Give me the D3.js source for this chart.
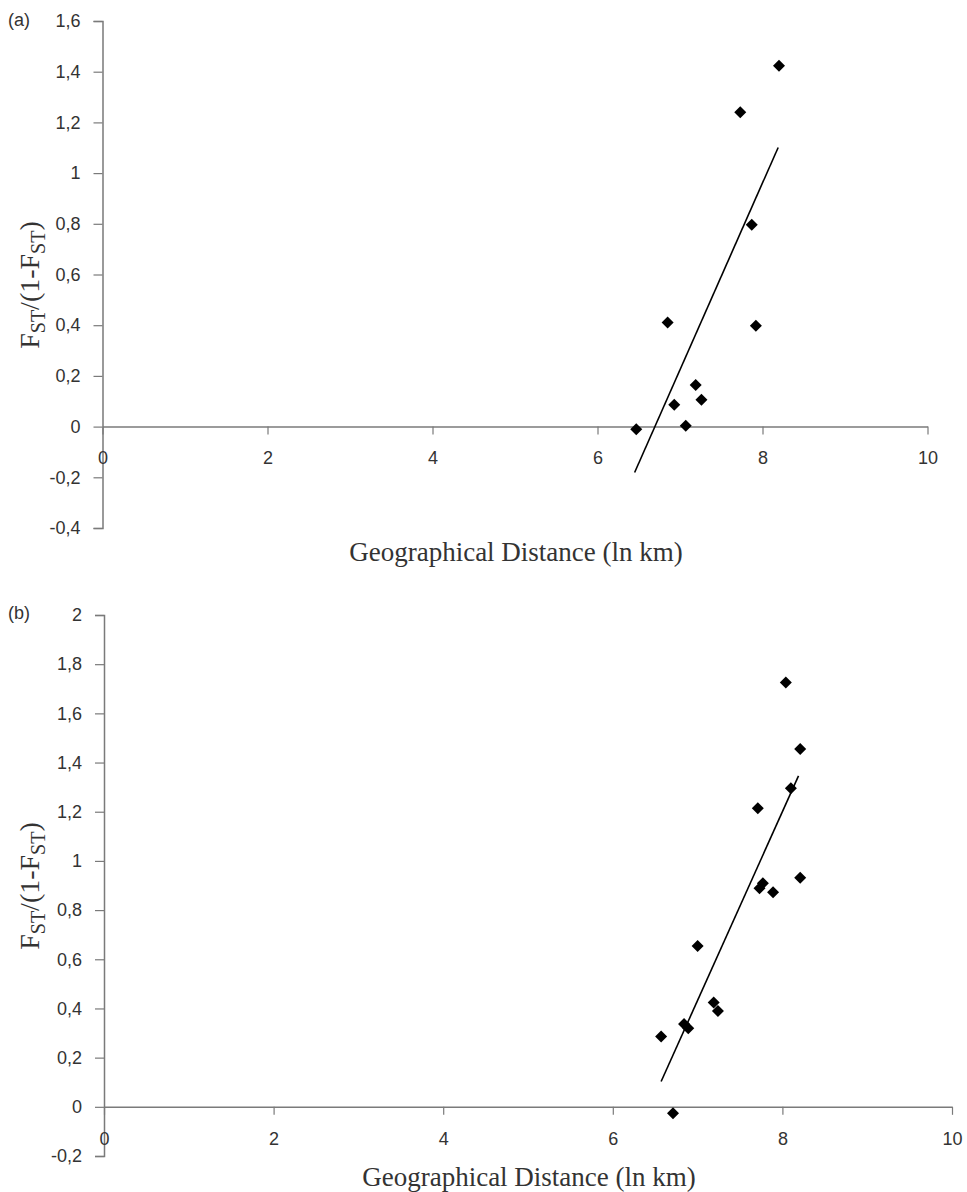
<!DOCTYPE html>
<html>
<head>
<meta charset="utf-8">
<script src="https://cdn.jsdelivr.net/npm/d3@7"></script>
<style>
  body { margin: 0; background: #fff; }
  svg text { fill: #333; }
</style>
</head>
<body>
<div id="viz"></div>
<script>
// panel (a)
const distA = [6.47, 7.07, 6.93, 7.26, 7.19, 6.85, 7.92, 7.87, 7.73, 8.20]
const fstA  = [-0.01, 0.003, 0.086, 0.106, 0.164, 0.411, 0.398, 0.796, 1.24, 1.423]
const trendA = [[6.45, -0.181], [8.19, 1.101]]
const yTicksA = [-0.4, -0.2, 0, 0.2, 0.4, 0.6, 0.8, 1, 1.2, 1.4, 1.6]

// panel (b)
const distB = [8.04, 8.21, 8.10, 7.71, 8.21, 7.77, 7.73, 7.89, 7.00, 7.19, 7.24, 6.84, 6.89, 6.57, 6.71]
const fstB  = [1.726, 1.455, 1.295, 1.214, 0.932, 0.909, 0.889, 0.873, 0.654, 0.424, 0.390, 0.337, 0.320, 0.286, -0.026]
const trendB = [[6.57, 0.103], [8.19, 1.346]]
const yTicksB = [-0.2, 0, 0.2, 0.4, 0.6, 0.8, 1, 1.2, 1.4, 1.6, 1.8, 2]

const xTicks = [0, 2, 4, 6, 8, 10]

const W = 967, H = 1192
const svg = d3.select("#viz").append("svg").attr("width", W).attr("height", H)

const fmt = d => String(d).replace(".", ",")
const axisColor = "#7a7a7a"

function panel(opt) {
    const x = d3.scaleLinear().domain([0, 10]).range(opt.xr)
    const y = d3.scaleLinear().domain(opt.yd).range(opt.yr)
    const g = svg.append("g")

    // y axis
    const ya = g.append("g").attr("transform", `translate(${x(0)},0)`)
        .call(d3.axisLeft(y).tickValues(opt.yTicks).tickFormat(fmt).tickSize(9).tickPadding(13))
    ya.select(".domain").attr("stroke", axisColor).attr("stroke-width", 1.5)
    ya.selectAll(".tick line").attr("stroke", axisColor).attr("stroke-width", 1.2)
    ya.selectAll(".tick text").attr("font-family", "Liberation Sans, Arial, sans-serif")
        .attr("font-size", 18).attr("fill", "#3a3a3a")

    // x axis through y = 0
    const xa = g.append("g").attr("transform", `translate(0,${y(0)})`)
        .call(d3.axisBottom(x).tickValues(opt.xTicks).tickFormat(d => d).tickSizeInner(8).tickSizeOuter(0).tickPadding(17))
    xa.select(".domain").attr("stroke", axisColor).attr("stroke-width", 1.5)
    xa.selectAll(".tick line").attr("stroke", axisColor).attr("stroke-width", 1.2)
    xa.selectAll(".tick text").attr("font-family", "Liberation Sans, Arial, sans-serif")
        .attr("font-size", 18).attr("fill", "#3a3a3a")

    // trend line
    g.append("path")
        .attr("d", d3.line().x(d => x(d[0])).y(d => y(d[1]))(opt.trend))
        .attr("fill", "none")
        .attr("stroke", "#000")
        .attr("stroke-width", 1.6)

    // points
    const pts = opt.dist.map((d, i) => ({ x: d, y: opt.fst[i] }))
    g.selectAll(".pt")
        .data(pts)
        .enter()
        .append("path")
        .attr("class", "pt")
        .attr("d", d3.symbol(d3.symbolSquare, 72)())
        .attr("transform", d => `translate(${x(d.x)},${y(d.y)}) rotate(45)`)
        .attr("fill", "#000")

    // panel letter
    g.append("text")
        .attr("x", 8).attr("y", opt.letterY)
        .attr("font-family", "Liberation Sans, Arial, sans-serif")
        .attr("font-size", 18).attr("fill", "#222")
        .text(opt.letter)

    // y title
    const yt = g.append("text")
        .attr("transform", `translate(39,${opt.yTitleY}) rotate(-90)`)
        .attr("text-anchor", "middle")
        .attr("font-family", "Liberation Serif, Times New Roman, serif")
        .attr("font-size", 28).attr("fill", "#333")
    yt.append("tspan").text("F")
    yt.append("tspan").attr("font-size", 20).attr("dy", 6).text("ST")
    yt.append("tspan").attr("dy", -6).text("/(1-F")
    yt.append("tspan").attr("font-size", 20).attr("dy", 6).text("ST")
    yt.append("tspan").attr("dy", -6).text(")")

    // x title
    g.append("text")
        .attr("x", (opt.xr[0] + opt.xr[1]) / 2 + 1)
        .attr("y", opt.xTitleY)
        .attr("text-anchor", "middle")
        .attr("font-family", "Liberation Serif, Times New Roman, serif")
        .attr("font-size", 27).attr("fill", "#333")
        .text("Geographical Distance (ln km)")
}

panel({
    dist: distA, fst: fstA, trend: trendA, yTicks: yTicksA, xTicks: xTicks,
    xr: [102.5, 927.5], yd: [-0.4, 1.6], yr: [528, 21],
    letter: "(a)", letterY: 26, yTitleY: 285, xTitleY: 561
})

panel({
    dist: distB, fst: fstB, trend: trendB, yTicks: yTicksB, xTicks: xTicks,
    xr: [104, 952], yd: [-0.2, 2], yr: [1156, 615],
    letter: "(b)", letterY: 619, yTitleY: 886, xTitleY: 1186
})
</script>
</body>
</html>
